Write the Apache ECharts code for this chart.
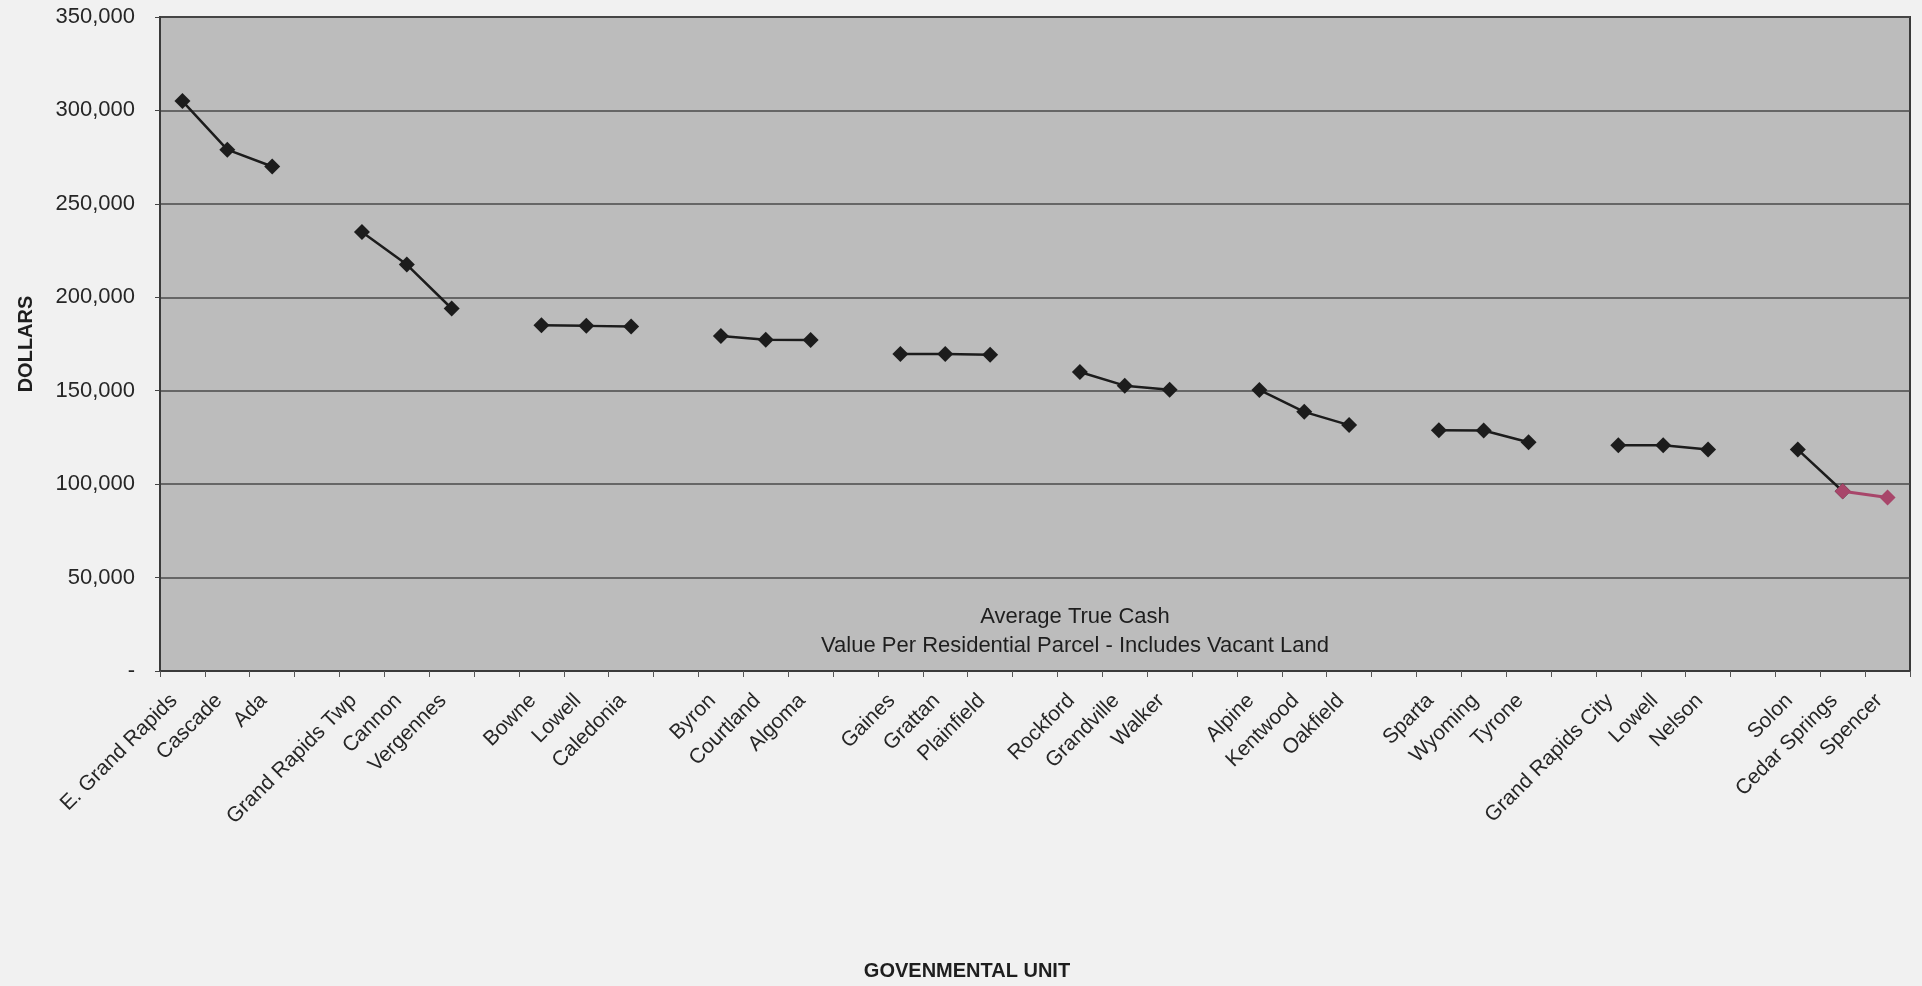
<!DOCTYPE html>
<html>
<head>
<meta charset="utf-8">
<title>Average True Cash Value Per Residential Parcel</title>
<script src="https://cdn.jsdelivr.net/npm/echarts@6/dist/echarts.min.js"></script>
<style>
  html, body { margin: 0; padding: 0; background: #f1f1f1; }
  #chart { width: 1922px; height: 986px; }
</style>
</head>
<body>
<div id="chart"></div>
<script>
// Governmental units, grouped in threes; blank entries separate the groups.
const units = [
  'E. Grand Rapids', 'Cascade', 'Ada', '',
  'Grand Rapids Twp', 'Cannon', 'Vergennes', '',
  'Bowne', 'Lowell', 'Caledonia', '',
  'Byron', 'Courtland', 'Algoma', '',
  'Gaines', 'Grattan', 'Plainfield', '',
  'Rockford', 'Grandville', 'Walker', '',
  'Alpine', 'Kentwood', 'Oakfield', '',
  'Sparta', 'Wyoming', 'Tyrone', '',
  'Grand Rapids City', 'Lowell', 'Nelson', '',
  'Solon', 'Cedar Springs', 'Spencer'
];

// Average true cash value per residential parcel (dollars); null = group gap.
const avgValue = [
  305000, 279000, 270000, null,
  235000, 217500, 194000, null,
  185000, 184700, 184300, null,
  179300, 177300, 177100, null,
  169700, 169700, 169300, null,
  160000, 152700, 150500, null,
  150400, 138700, 131600, null,
  128900, 128700, 122400, null,
  120800, 120800, 118500, null,
  118500, 96200, 92800
];

// Units drawn in the accent colour (last segment of the line).
const accentUnits = ['Cedar Springs', 'Spencer'];

const yTicks = { min: 0, max: 350000, interval: 50000 };

const lastIdx = avgValue.length - 1;
const accentStart = lastIdx - accentUnits.length + 1;
const mainData = avgValue.map((v, i) => (i > accentStart ? null : v));
const accentData = avgValue.map((v, i) => (i >= accentStart ? v : null));

const font = '"Liberation Sans", Arial, sans-serif';
const chart = echarts.init(document.getElementById('chart'), null, { renderer: 'canvas' });

chart.setOption({
  backgroundColor: '#f1f1f1',
  animation: false,
  title: {
    text: 'Average True Cash\nValue Per Residential Parcel - Includes Vacant Land',
    left: 1070,
    top: 597,
    textAlign: 'center',
    textStyle: {
      fontFamily: font,
      fontSize: 22,
      fontWeight: 'normal',
      color: '#1e1e1e',
      lineHeight: 29
    }
  },
  grid: {
    left: 160,
    right: 12,
    top: 17,
    bottom: 314,
    show: true,
    backgroundColor: '#bcbcbc',
    borderColor: '#3a3a3a',
    borderWidth: 2
  },
  xAxis: {
    type: 'category',
    data: units,
    boundaryGap: true,
    name: 'GOVENMENTAL UNIT',
    nameLocation: 'middle',
    nameGap: 290,
    nameTextStyle: {
      fontFamily: font,
      fontSize: 20,
      fontWeight: 'bold',
      color: '#1e1e1e',
      padding: [0, 136, 0, 0]
    },
    axisLine: { lineStyle: { color: '#3a3a3a', width: 2 } },
    axisTick: { show: true, length: 6, lineStyle: { color: '#555', width: 1 } },
    axisLabel: {
      interval: 0,
      rotate: 45,
      margin: 18,
      padding: [0, 12, 0, 0],
      fontFamily: font,
      fontSize: 21,
      color: '#262626'
    },
    splitLine: { show: false }
  },
  yAxis: {
    type: 'value',
    min: yTicks.min,
    max: yTicks.max,
    interval: yTicks.interval,
    name: 'DOLLARS',
    nameLocation: 'middle',
    nameGap: 124,
    nameTextStyle: {
      fontFamily: font,
      fontSize: 20,
      fontWeight: 'bold',
      color: '#1e1e1e'
    },
    axisLine: { show: true, lineStyle: { color: '#3a3a3a', width: 2 } },
    axisTick: { show: true, length: 5, lineStyle: { color: '#444', width: 1 } },
    axisLabel: {
      margin: 25,
      fontFamily: font,
      fontSize: 22,
      color: '#262626',
      formatter: v => (v === 0 ? '-' : v.toLocaleString('en-US'))
    },
    splitLine: { show: true, lineStyle: { color: '#4a4a4a', width: 1.5 } }
  },
  series: [
    {
      name: 'Average value',
      type: 'line',
      data: mainData,
      connectNulls: false,
      symbol: 'diamond',
      symbolSize: 16,
      itemStyle: { color: '#1c1c1c' },
      lineStyle: { color: '#1c1c1c', width: 2.5 },
      z: 3
    },
    {
      name: 'Accent',
      type: 'line',
      data: accentData,
      connectNulls: false,
      symbol: 'diamond',
      symbolSize: 16,
      itemStyle: { color: '#a8466a' },
      lineStyle: { color: '#a8466a', width: 3 },
      z: 4
    }
  ]
});
</script>
</body>
</html>
